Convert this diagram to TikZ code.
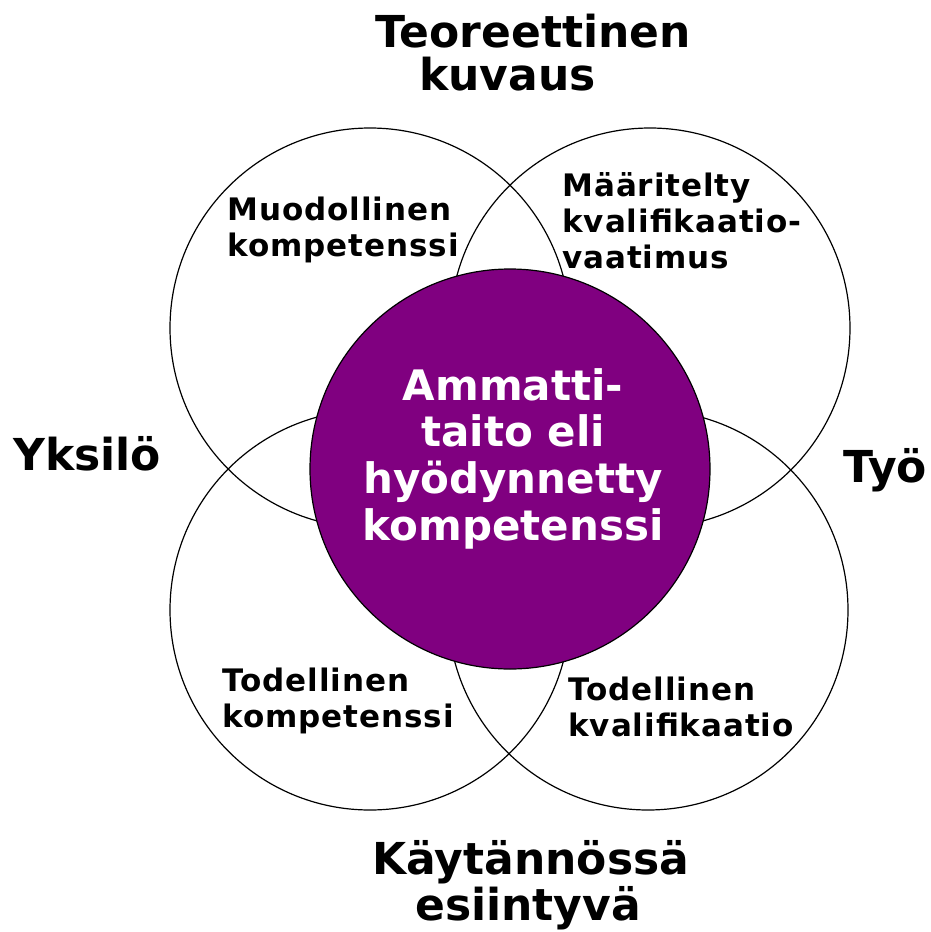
\documentclass[tikz,border=0pt]{standalone}
\usepackage{fontspec}
\setmainfont{DejaVu Sans}
\newfontfamily\spacedfont{DejaVu Sans}[LetterSpace=3]
\definecolor{corepurple}{HTML}{800080}
\begin{document}
\begin{tikzpicture}[x=0.5pt,y=-0.5pt,
        ring/.style={circle,draw,line width=0.6pt,minimum size=200pt,inner sep=0pt},
        core/.style={circle,draw,fill=corepurple,line width=0.6pt,minimum size=200pt,inner sep=0pt},
        heading/.style={font=\fontsize{22pt}{21.5pt}\selectfont\bfseries,inner sep=0pt,align=left,anchor=base west},
        small/.style={font=\spacedfont\fontsize{15.5pt}{18pt}\selectfont\bfseries,inner sep=0pt,align=left,anchor=base west}]
        \useasboundingbox (0,0) rectangle (931,932);
        % four overlapping circles
        \node[ring] (theory) at (370,328) {};
        \node[ring] (required) at (650,328) {};
        \node[ring] (actual) at (370,610) {};
        \node[ring] (realised) at (648,610) {};
        % purple core
        \node[core] (core) at (510,469) {};
        \node[font=\fontsize{21pt}{23.3pt}\selectfont\bfseries,text=white,align=center,inner sep=0pt,anchor=base] (coretext) at (513,540) {Ammatti-\\taito eli\\hyödynnetty\\kompetenssi};
        % axis labels (anchored at the last line)
        \node[heading] (top) at (375,90) {Teoreettinen\\\hspace{22pt}kuvaus};
        \node[heading] (bottom) at (372,920) {Käytännössä\\\hspace{21.5pt}esiintyvä};
        \node[heading] (left) at (13,470) {Yksilö};
        \node[heading] (right) at (843,482) {Työ};
        % circle labels
        \node[small] (formal) at (227,256) {Muodollinen\\kompetenssi};
        \node[small] (defined) at (562,268) {Määritelty\\kvalifikaatio-\\vaatimus};
        \node[small] (realcomp) at (222,727) {Todellinen\\kompetenssi};
        \node[small] (realqual) at (568,736) {Todellinen\\kvalifikaatio};
    \end{tikzpicture}
\end{document}
